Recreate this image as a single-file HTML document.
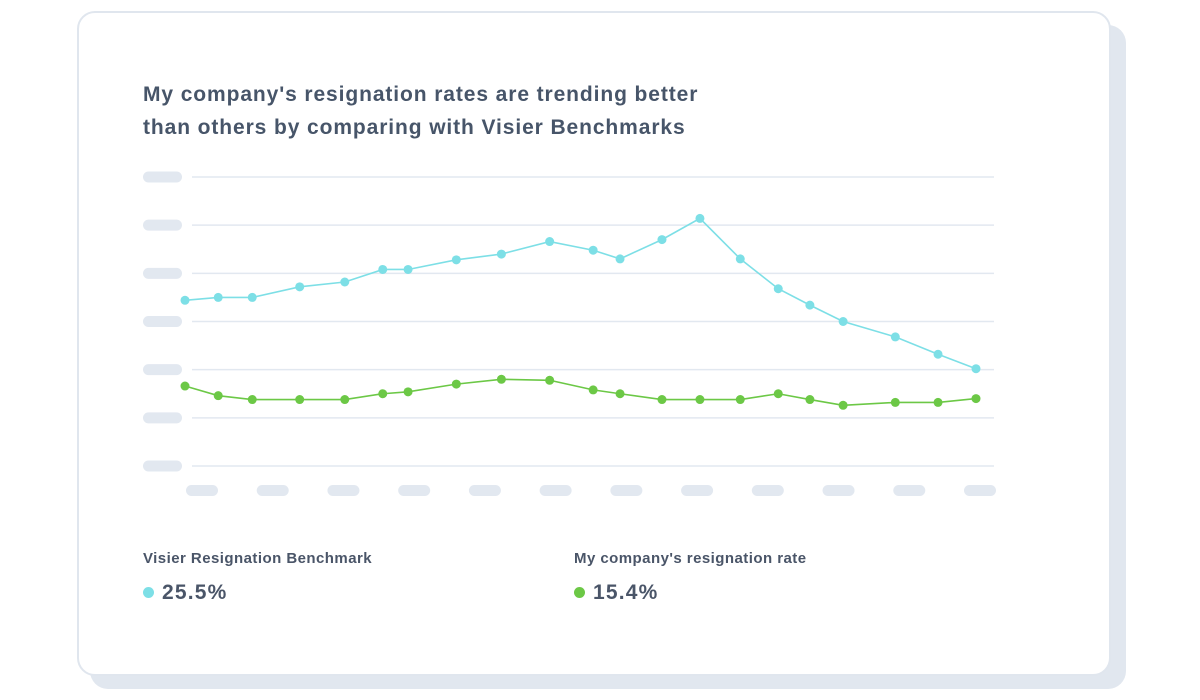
<!DOCTYPE html>
<html><head><meta charset="utf-8"><style>
body{margin:0;width:1200px;height:700px;background:#fff;font-family:"Liberation Sans",sans-serif;overflow:hidden;position:relative}
.shadow{position:absolute;left:90px;top:25px;width:1036px;height:664px;background:#e1e7ef;border-radius:18px}
.card{position:absolute;left:77px;top:11px;width:1030px;height:661px;background:#fff;border:2px solid #e0e6ee;border-radius:18px}
.title{position:absolute;left:143px;top:78px;font-size:21px;font-weight:bold;color:#475569;line-height:33px;letter-spacing:0.9px;white-space:nowrap}
.lab{position:absolute;font-size:15px;font-weight:bold;color:#4a5568;top:550px;letter-spacing:0.45px}
.val{position:absolute;font-size:21px;font-weight:bold;color:#4a5568;top:581px;letter-spacing:1.2px}
.dot{display:inline-block;width:11px;height:11px;border-radius:50%;margin-right:8px;vertical-align:1px}
svg{position:absolute;left:0;top:0}
</style></head><body>
<div class="shadow"></div>
<div class="card"></div>
<div class="title">My company's resignation rates are trending better<br>than others by comparing with Visier Benchmarks</div>
<svg id="chart" width="1200" height="700"></svg>
<div class="lab" style="left:143px">Visier Resignation Benchmark</div>
<div class="val" style="left:143px"><span class="dot" style="background:#7ddfe6"></span>25.5%</div>
<div class="lab" style="left:574px">My company's resignation rate</div>
<div class="val" style="left:574px"><span class="dot" style="background:#6cc846"></span>15.4%</div>
<script>
const xVals=[0,4.2,8.5,14.5,20.2,25,28.2,34.3,40,46.1,51.6,55,60.3,65.1,70.2,75,79,83.2,89.8,95.2,100];
const benchmark=[17.2,17.5,17.5,18.6,19.1,20.4,20.4,21.4,22.0,23.3,22.4,21.5,23.5,25.7,21.5,18.4,16.7,15.0,13.4,11.6,10.1];
const company=[8.3,7.3,6.9,6.9,6.9,7.5,7.7,8.5,9.0,8.9,7.9,7.5,6.9,6.9,6.9,7.5,6.9,6.3,6.6,6.6,7.0];
const yTicks=[0,5,10,15,20,25,30];
const xTickCount=12;
const NS="http://www.w3.org/2000/svg";
const svg=document.getElementById('chart');
const X=v=>185+v*7.91;
const Y=v=>466-v*(289/30);
function el(t,a){const e=document.createElementNS(NS,t);for(const k in a)e.setAttribute(k,a[k]);svg.appendChild(e);return e;}
yTicks.forEach((t,i)=>{
  const g=el('line',{x1:192,x2:994,y1:Y(t),y2:Y(t),stroke:'#e2e8f0','stroke-width':1.5});
  
  
  const p=el('rect',{x:143,y:Y(t)-5.5,width:39,height:11,rx:5.5,fill:'#e2e8f0'});
  
  
});
for(let i=0;i<xTickCount;i++){
  const cx=202+i*(980-202)/(xTickCount-1);
  const p=el('rect',{x:cx-16,y:485,width:32,height:11,rx:5.5,fill:'#e2e8f0'});
  
  
}
function series(vals,color,name){
  const l=el('polyline',{points:vals.map((v,i)=>X(xVals[i])+','+Y(v)).join(' '),fill:'none',stroke:color,'stroke-width':1.6});
  
  
  vals.forEach((v,i)=>{
    const c=el('circle',{cx:X(xVals[i]),cy:Y(v),r:4.5,fill:color});
    
    
  });
}
series(benchmark,'#7ddfe6','benchmark');
series(company,'#6cc846','company');
</script>
</body></html>
